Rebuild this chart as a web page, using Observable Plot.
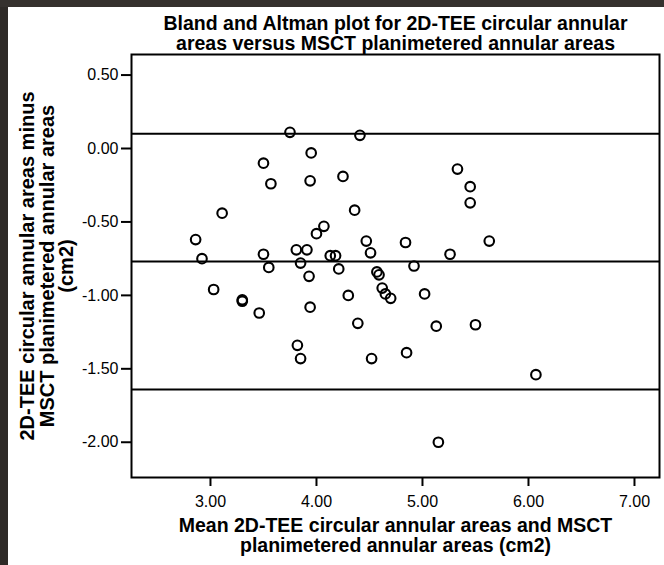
<!DOCTYPE html>
<html>
<head>
<meta charset="utf-8">
<script src="https://cdn.jsdelivr.net/npm/d3@7"></script>
<script src="https://cdn.jsdelivr.net/npm/@observablehq/plot@0.6"></script>
<style>
  html, body { margin: 0; padding: 0; background: #ffffff; }
  #wrap { position: relative; width: 664px; height: 565px; overflow: hidden; background: #ffffff; }
  #wrap svg { position: absolute; left: 0; top: 0; }
  .edgeL { position: absolute; left: 0; top: 0; width: 8px; height: 565px; background: #2e2a27; }
  .edgeT { position: absolute; left: 0; top: 0; width: 664px; height: 7px; background: #35312e; }
</style>
</head>
<body>
<div id="wrap"></div>
<script>
// ---- data ----
const titleText = "Bland and Altman plot for 2D-TEE circular annular\nareas versus MSCT planimetered annular areas";
const xTitle = "Mean 2D-TEE circular annular areas and MSCT\nplanimetered annular areas (cm2)";
const yTitle = "2D-TEE circular annular areas minus\nMSCT planimetered annular areas\n(cm2)";

const meanAreas = [3.75, 4.41, 3.95, 3.50, 3.57, 3.94, 4.25, 3.11, 4.36, 2.86,
                   2.92, 3.50, 3.55, 3.81, 3.91, 3.85, 4.00, 4.07, 4.13, 4.18,
                   4.21, 4.47, 4.51, 3.03, 3.30, 3.46, 3.93, 3.94, 3.82, 3.85,
                   4.30, 4.39, 4.57, 4.59, 4.62, 4.65, 4.70, 4.52, 4.84, 5.63,
                   5.26, 4.92, 5.02, 5.13, 5.50, 4.85, 6.07, 5.15, 5.33, 5.45,
                   5.45, 3.30];
const diffAreas = [0.11, 0.09, -0.03, -0.10, -0.24, -0.22, -0.19, -0.44, -0.42, -0.62,
                   -0.75, -0.72, -0.81, -0.69, -0.69, -0.78, -0.58, -0.53, -0.73, -0.73,
                   -0.82, -0.63, -0.71, -0.96, -1.04, -1.12, -0.87, -1.08, -1.34, -1.43,
                   -1.00, -1.19, -0.84, -0.86, -0.95, -0.99, -1.02, -1.43, -0.64, -0.63,
                   -0.72, -0.80, -0.99, -1.21, -1.20, -1.39, -1.54, -2.00, -0.14, -0.26,
                   -0.37, -1.03];
const meanDiff = -0.77;
const upperLimit = 0.10;
const lowerLimit = -1.64;

const xTicks = [3, 4, 5, 6, 7];
const yTicks = [0.5, 0, -0.5, -1, -1.5, -2];
const fmt = d => d.toFixed(2);

const points = meanAreas.map((m, i) => ({mean: m, diff: diffAreas[i]}));

const chart = Plot.plot({
  width: 664,
  height: 565,
  marginLeft: 131,
  marginRight: 5,
  marginTop: 54,
  marginBottom: 88,
  style: {fontFamily: "'Liberation Sans', Arial, sans-serif", fontSize: "16px", color: "#000", background: "transparent"},
  x: {domain: [2.255, 7.236]},
  y: {domain: [-2.24, 0.64]},
  marks: [
    Plot.ruleY([upperLimit, meanDiff, lowerLimit], {stroke: "#000", strokeWidth: 2}),
    Plot.dot(points, {x: "mean", y: "diff", r: 4.8, stroke: "#000", strokeWidth: 2.1, fill: "none"}),
    Plot.frame({stroke: "#000", strokeWidth: 2}),
    Plot.axisX({ticks: xTicks, tickFormat: fmt, tickSize: 9, tickPadding: 9, fontSize: 16, strokeWidth: 2, label: null}),
    Plot.axisY({ticks: yTicks, tickFormat: fmt, tickSize: 10, tickPadding: 3, fontSize: 16, strokeWidth: 2, label: null}),
    Plot.text([titleText], {frameAnchor: "top", dy: -39.5, lineAnchor: "top", fontSize: 19.5, fontWeight: "bold", lineHeight: 1.06, fill: "#000"}),
    Plot.text([xTitle], {frameAnchor: "bottom", dy: 39.5, lineAnchor: "top", fontSize: 19.5, fontWeight: "bold", lineHeight: 1.06, fill: "#000"}),
    Plot.text([yTitle], {frameAnchor: "left", textAnchor: "middle", dx: -111, rotate: -90, lineAnchor: "top", fontSize: 20, fontWeight: "bold", lineHeight: 0.97, fill: "#000"})
  ]
});

const wrap = document.getElementById("wrap");
wrap.appendChild(chart);
const l = document.createElement("div"); l.className = "edgeL"; wrap.appendChild(l);
const t = document.createElement("div"); t.className = "edgeT"; wrap.appendChild(t);
</script>
</body>
</html>
